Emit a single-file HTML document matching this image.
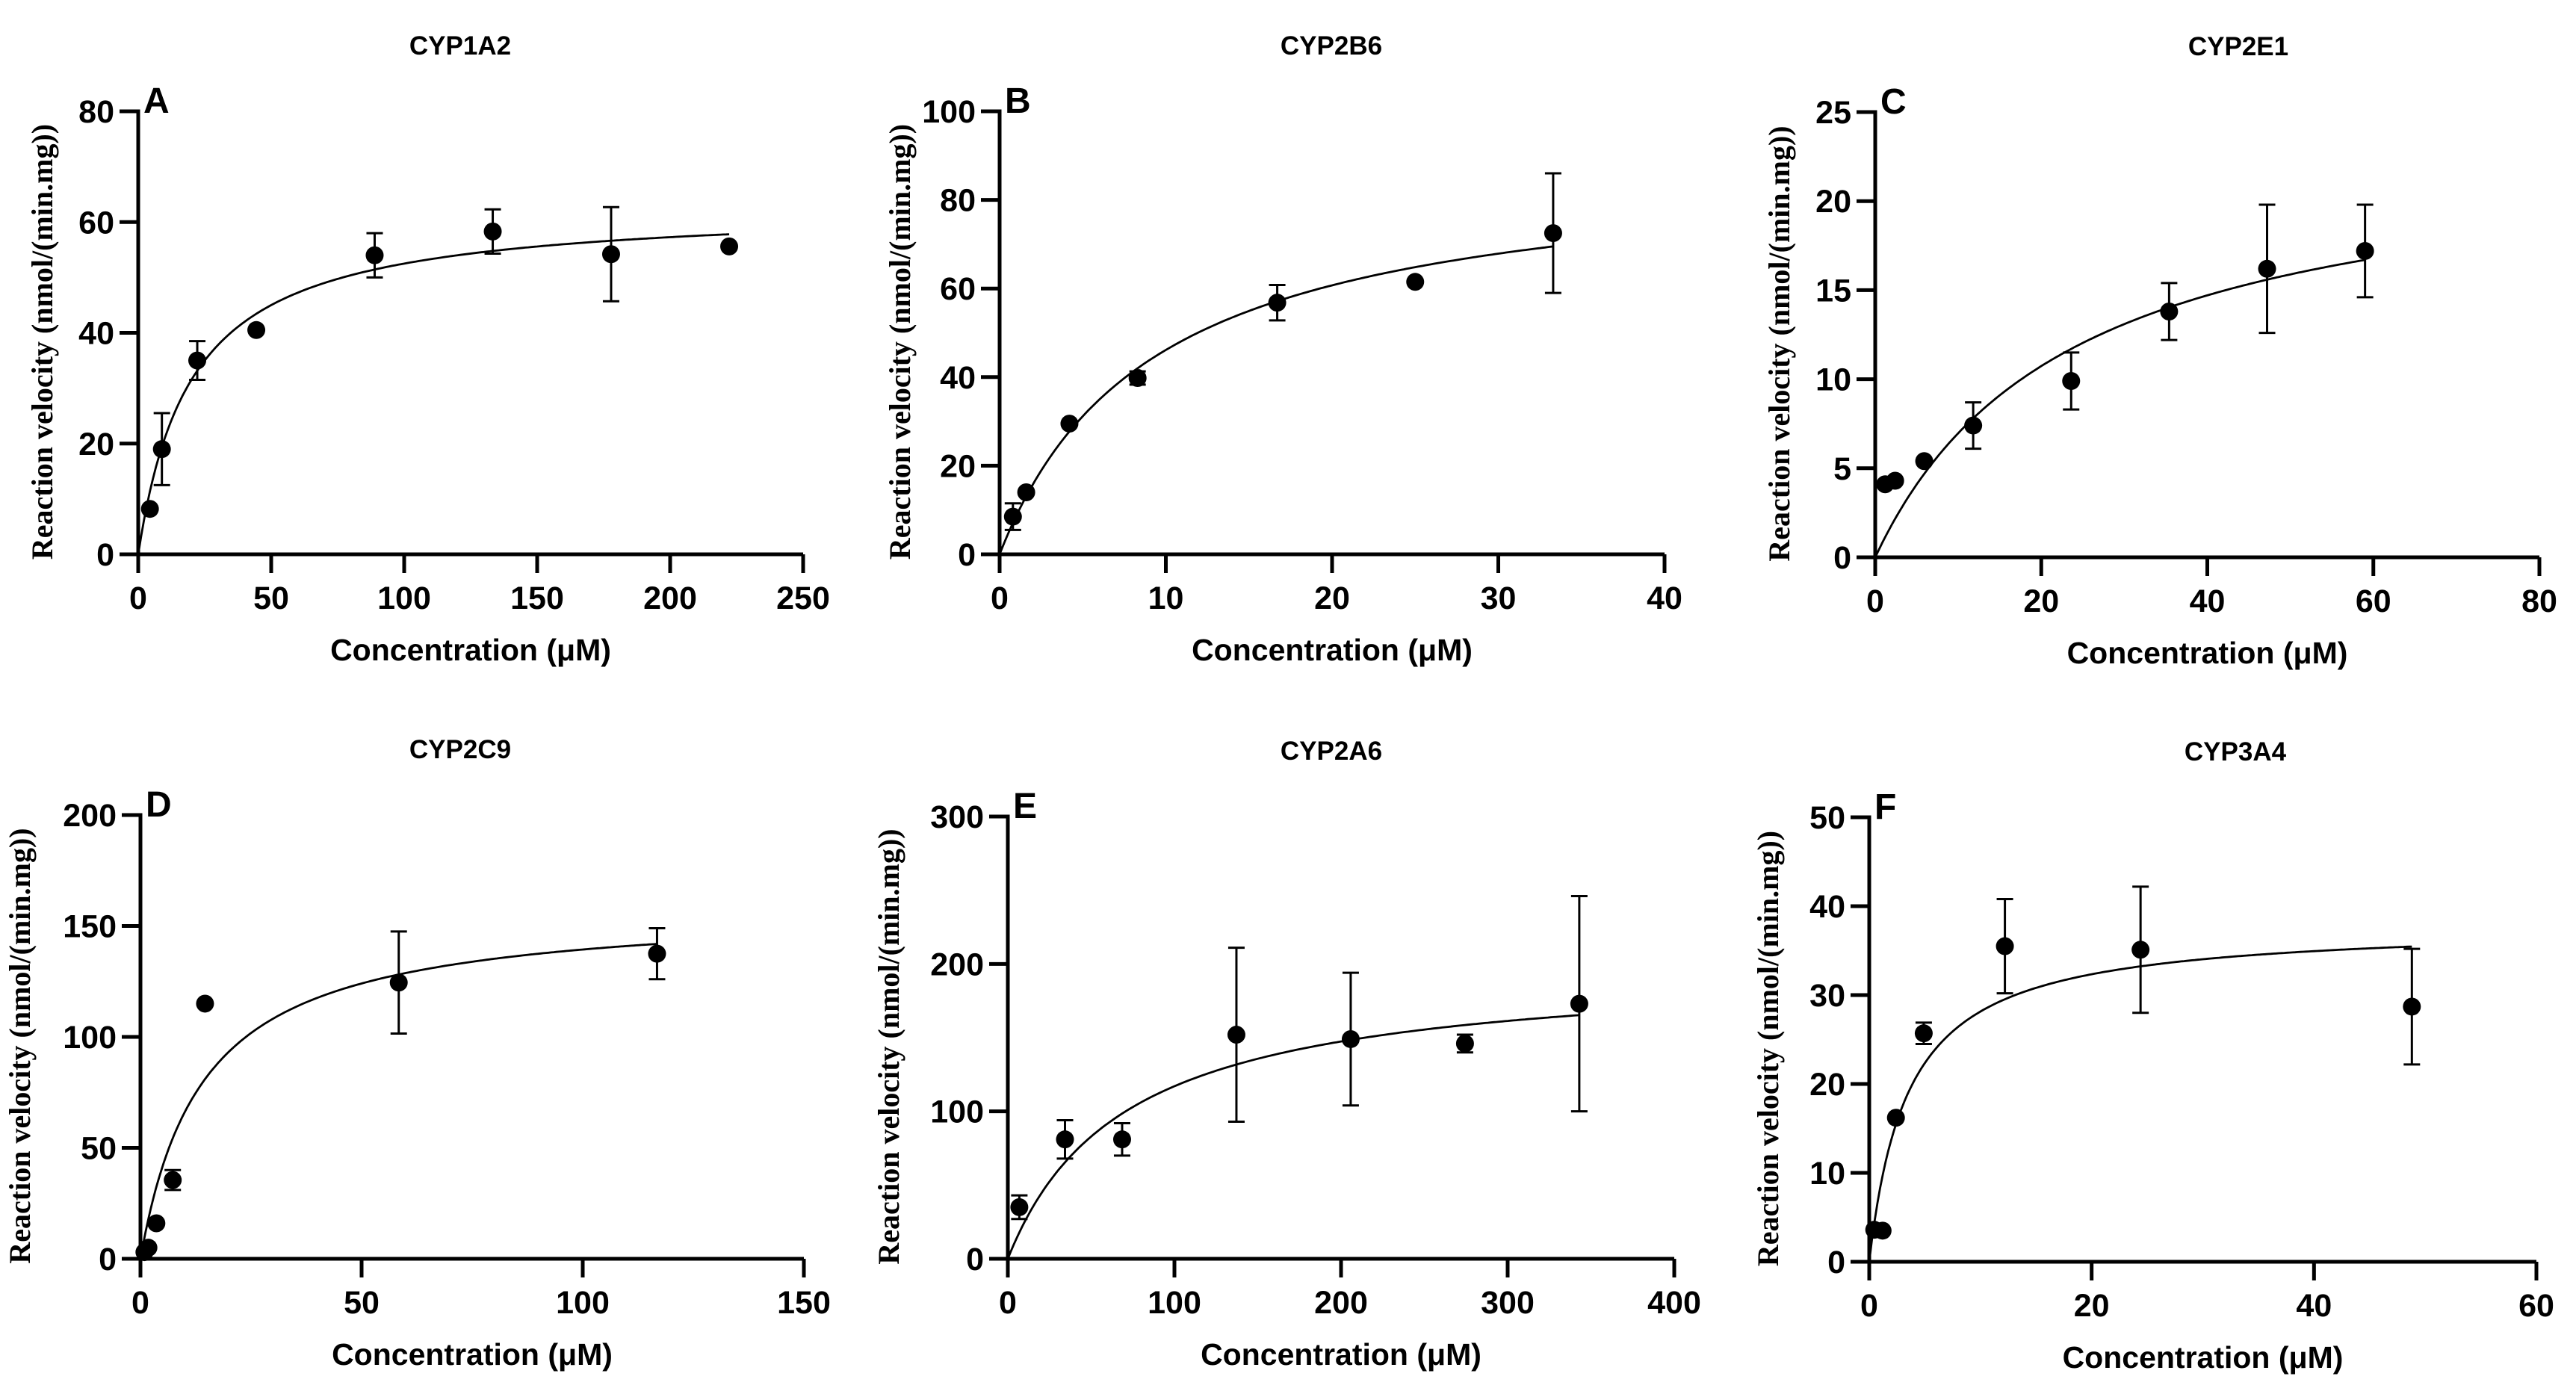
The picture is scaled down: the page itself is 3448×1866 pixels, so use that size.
<!DOCTYPE html>
<html><head><meta charset="utf-8"><style>
html,body{margin:0;padding:0;background:#fff;}
svg{display:block;}
text{font-family:"Liberation Sans",Arial,sans-serif;}
</style></head><body>
<svg id="fig" width="3448" height="1866" viewBox="0 0 3448 1866" xmlns="http://www.w3.org/2000/svg"></svg>
<script>
// ---- data ----
const titles = ["CYP1A2","CYP2B6","CYP2E1","CYP2C9","CYP2A6","CYP3A4"];
const letters = ["A","B","C","D","E","F"];
const xA = [4.4,8.9,22.2,44.4,88.9,133.3,177.8,222.2];
const yA = [8.2,19,35,40.5,54,58.3,54.2,55.6];
const eA = [0,6.5,3.5,0,4,4,8.5,0];
const xB = [0.8,1.6,4.2,8.3,16.7,25,33.3];
const yB = [8.5,14,29.5,39.8,56.8,61.5,72.5];
const eB = [3,0,0,1.5,4,0,13.5];
const xC = [1.2,2.4,5.9,11.8,23.6,35.4,47.2,59];
const yC = [4.1,4.3,5.4,7.4,9.9,13.8,16.2,17.2];
const eC = [0,0,0,1.3,1.6,1.6,3.6,2.6];
const xD = [0.9,1.8,3.6,7.3,14.6,58.4,116.8];
const yD = [3,5,16,35.5,115,124.5,137.5];
const eD = [0,0,0,4.5,0,23,11.5];
const xE = [6.9,34.3,68.6,137.2,205.8,274.4,343];
const yE = [35,81,81,152,149,146,173];
const eE = [8,13,11,59,45,6,73];
const xF = [0.45,1.2,2.4,4.9,12.2,24.4,48.8];
const yF = [3.6,3.5,16.2,25.7,35.5,35.1,28.7];
const eF = [0,0,0,1.2,5.3,7.1,6.5];
const vmax = [63,88.8,23.35,159,199,38];
const km = [20,9.25,23.5,14.07,70,3.5];
const xTicks = [[0,50,100,150,200,250],[0,10,20,30,40],[0,20,40,60,80],[0,50,100,150],[0,100,200,300,400],[0,20,40,60]];
const yTicks = [[0,20,40,60,80],[0,20,40,60,80,100],[0,5,10,15,20,25],[0,50,100,150,200],[0,100,200,300],[0,10,20,30,40,50]];

// ---- layout ----
const boxes = [
 {x0:185,x1:1075,y0:742,y1:149},
 {x0:1338,x1:2228,y0:742,y1:149},
 {x0:2510,x1:3399,y0:746,y1:150},
 {x0:188,x1:1076,y0:1685,y1:1091},
 {x0:1349,x1:2241,y0:1685,y1:1093},
 {x0:2502,x1:3395,y0:1689,y1:1094}
];
const titleX=[616,1782,2996,616,1782,2992];
const ytitleX=[70,1218,2395,40,1203,2380];
const xs=[xA,xB,xC,xD,xE,xF], ys=[yA,yB,yC,yD,yE,yF], es=[eA,eB,eC,eD,eE,eF];
const NS="http://www.w3.org/2000/svg";
const svg=document.getElementById('fig');
function mk(tag,attrs,parent){const e=document.createElementNS(NS,tag);for(const k in attrs)e.setAttribute(k,attrs[k]);(parent||svg).appendChild(e);return e;}

for(let p=0;p<6;p++){
  const b=boxes[p];
  const xmax=xTicks[p][xTicks[p].length-1], ymax=yTicks[p][yTicks[p].length-1];
  const sx=v=>b.x0+(b.x1-b.x0)*v/xmax;
  const sy=v=>b.y0-(b.y0-b.y1)*v/ymax;
  const g=mk('g',{});
  
  
  const t=mk('text',{x:titleX[p],y:b.y1-76,'text-anchor':'middle','font-size':35,'font-weight':'bold'},g);
  t.textContent=titles[p];
  
  
  const L=mk('text',{x:b.x0+7,y:b.y1+2,'font-size':48,'font-weight':'bold'},g);
  L.textContent=letters[p];
  
  
  const ax=mk('path',{d:`M${b.x0-25} ${b.y1} H${b.x0} V${b.y0+25} M${b.x0-25} ${b.y0} H${b.x1}`,stroke:'#000','stroke-width':5,fill:'none'},g);
  
  
  yTicks[p].forEach(v=>{
    mk('line',{x1:b.x0-25,x2:b.x0,y1:sy(v),y2:sy(v),stroke:'#000','stroke-width':5},g);
    const tl=mk('text',{x:b.x0-32,y:sy(v)+15,'text-anchor':'end','font-size':43,'font-weight':'bold'},g);
    tl.textContent=v;
    
    
  });
  xTicks[p].forEach(v=>{
    mk('line',{x1:sx(v),x2:sx(v),y1:b.y0,y2:b.y0+25,stroke:'#000','stroke-width':5},g);
    const tl=mk('text',{x:sx(v),y:b.y0+73,'text-anchor':'middle','font-size':43,'font-weight':'bold'},g);
    tl.textContent=v;
    
    
  });
  const xt=mk('text',{x:(b.x0+b.x1)/2,y:b.y0+142,'text-anchor':'middle','font-size':41,'font-weight':'bold'},g);
  xt.textContent='Concentration (μM)';
  
  
  const yc=(b.y0+b.y1)/2+12;
  const yt=mk('text',{x:ytitleX[p],y:yc,'text-anchor':'middle','font-size':40,'font-weight':'bold',transform:`rotate(-90 ${ytitleX[p]} ${yc})`,style:'font-family:"Liberation Serif",serif'},g);
  yt.textContent='Reaction velocity (nmol/(min.mg))';
  
  
  const xl=xs[p][xs[p].length-1];
  let d='';
  for(let i=0;i<=200;i++){const xv=xl*i/200;const yv=vmax[p]*xv/(km[p]+xv);d+=(i?'L':'M')+sx(xv).toFixed(1)+' '+sy(yv).toFixed(1);}
  const c=mk('path',{d:d,stroke:'#000','stroke-width':2.8,fill:'none'},g);
  
  
  xs[p].forEach((xv,i)=>{
    const yv=ys[p][i], ev=es[p][i];
    if(ev>0){
      const eb=mk('path',{d:`M${sx(xv)} ${sy(yv+ev)} V${sy(yv-ev)} M${sx(xv)-11} ${sy(yv+ev)} H${sx(xv)+11} M${sx(xv)-11} ${sy(yv-ev)} H${sx(xv)+11}`,stroke:'#000','stroke-width':3,fill:'none'},g);
      
      
    }
    const pt=mk('circle',{cx:sx(xv),cy:sy(yv),r:12,fill:'#000'},g);
    
    
  });
}
</script>
</body></html>
